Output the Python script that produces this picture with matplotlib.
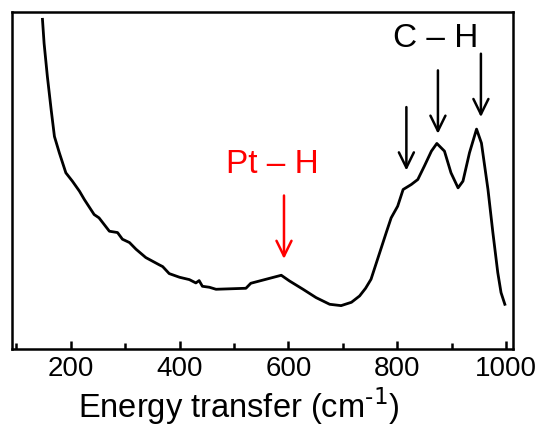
import matplotlib
matplotlib.use("Agg")
import matplotlib.pyplot as plt
from matplotlib.ticker import MultipleLocator

plt.rcParams['font.family'] = ['Liberation Sans', 'DejaVu Sans']

energy = [148, 151, 157, 164, 170, 179, 191, 203, 216, 225, 243, 252, 271, 286, 295, 308,
          320, 338, 363, 369, 381, 400, 418, 430, 436, 442, 455, 467, 522, 531, 559, 587,
          602, 627, 651, 676, 697, 716, 731, 742, 752, 768, 780, 789, 801, 811, 826, 838,
          850, 863, 873, 887, 899, 912, 921, 933, 946, 955, 967, 976, 985, 991, 998]
intensity = [988, 916, 817, 717, 637, 588, 528, 503, 473, 448, 403, 393, 353, 349, 329, 319,
             299, 274, 252, 247, 226, 215, 208, 198, 205, 188, 185, 179, 182, 197, 209, 221,
             204, 179, 154, 134, 130, 140, 159, 182, 209, 289, 349, 393, 428, 478, 493, 508,
             548, 593, 616, 593, 528, 483, 503, 588, 659, 617, 478, 349, 229, 169, 134]

ch_arrows_x = [817, 875, 954]
ch_arrows_top = [725, 835, 885]
ch_arrows_bot = [535, 645, 695]
pth_arrow_x = 592
pth_arrow_top = 460
pth_arrow_bot = 270

fig = plt.figure(figsize=(5.39, 4.28), dpi=100)
ax = fig.add_axes([12/539, (428-349)/428, (513-12)/539, (349-12)/428])
ax.plot(energy, intensity, color='black', lw=2.0, solid_joinstyle='round')
ax.set_xlim(92, 1013)
ax.set_ylim(0, 1010)
ax.set_yticks([])
ax.xaxis.set_major_locator(MultipleLocator(200))
ax.xaxis.set_minor_locator(MultipleLocator(100))
ax.tick_params(axis='x', which='major', direction='in', length=6, width=1.8, labelsize=20, pad=5)
ax.tick_params(axis='x', which='minor', direction='in', length=4, width=1.8)
for s in ax.spines.values():
    s.set_linewidth(1.8)

ap = dict(arrowstyle='->,head_length=0.55,head_width=0.27', lw=1.8, mutation_scale=20,
          shrinkA=0, shrinkB=0)
for x, t, b in zip(ch_arrows_x, ch_arrows_top, ch_arrows_bot):
    ax.annotate('', xy=(x, b), xytext=(x, t), arrowprops=dict(ap, color='black'))
ax.annotate('', xy=(pth_arrow_x, pth_arrow_bot), xytext=(pth_arrow_x, pth_arrow_top),
            arrowprops=dict(ap, color='red'))
ax.text(871, 930, 'C – H', ha='center', va='center', fontsize=24, color='black')
ax.text(571, 554, 'Pt – H', ha='center', va='center', fontsize=24, color='red')
ax.set_xlabel('Energy transfer (cm$^{\\text{-1}}$)', fontsize=23.5)
ax.xaxis.label.set_va('center')
ax.xaxis.set_label_coords(0.452, -0.168)

fig.savefig('out.png', dpi=100)
